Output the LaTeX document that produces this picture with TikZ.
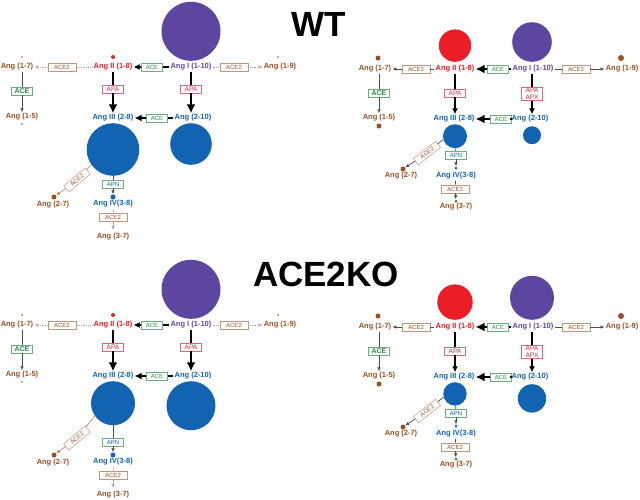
\documentclass[tikz,border=0pt]{standalone}
\usepackage{fontspec}
\setmainfont{Liberation Sans}
\usetikzlibrary{arrows.meta}

\definecolor{angbrown}{RGB}{155,80,35}
\definecolor{angred}{RGB}{235,30,40}
\definecolor{angpurple}{RGB}{92,70,160}
\definecolor{angblue}{RGB}{18,100,178}
\definecolor{enzgreen}{RGB}{40,140,65}
\definecolor{enzred}{RGB}{205,40,60}

\tikzset{
  title/.style={font=\bfseries\fontsize{35}{35}\selectfont, inner sep=0pt},
  pep/.style={font=\bfseries\fontsize{7.5}{8}\selectfont, inner sep=1pt},
  enz/.style={draw, fill=white, line width=0.5pt, inner sep=1pt, minimum width=21pt,
    minimum height=8pt, font=\fontsize{6}{6}\selectfont},
  ace2/.style={enz, draw=angbrown!60, text=angbrown, minimum width=28pt},
  ace/.style={enz, draw=enzgreen!70, text=enzgreen},
  acev/.style={ace, font=\bfseries\fontsize{7}{7}\selectfont},
  apa/.style={enz, draw=enzred!70, text=enzred, font=\fontsize{6.5}{7}\selectfont},
  apn/.style={enz, draw=enzgreen!70, text=angblue},
  pool/.style={circle, inner sep=0pt},
  dot/.style={circle, fill, inner sep=0pt},
  bigflow/.style={line width=2.5pt},
  bigflowto/.style={bigflow, -{Latex[length=9pt,width=9pt]}},
  flow/.style={line width=1.4pt},
  flowto/.style={flow, -{Latex[length=6pt,width=6pt]}},
  side/.style={line width=0.7pt, black!70},
  sideto/.style={side, -{Latex[length=4pt,width=3.5pt]}},
  weak/.style={densely dotted, line width=0.8pt, angbrown!50},
  weakto/.style={weak, -{Latex[open,length=4pt,width=4pt]}}
}

\begin{document}
\begin{tikzpicture}[x=1pt, y=-1pt]
  \useasboundingbox (0,0) rectangle (640,499);

  % Titles
  \node[title] (wt) at (319,24) {WT};
  \node[title] (ko) at (326,274) {ACE2KO};

  % Left column
  \foreach \ys/\rc/\rd in {0/26.3/20.8, 258/22/24.5} {
  \begin{scope}[shift={(0,\ys)}]
    % Pools
    \node[pool, fill=angpurple, minimum size=59pt, anchor=south] (p1) at (191,61) {};
    \node[pool, fill=angblue, minimum size={2*\rc*1pt}, anchor=north] (p3) at (113,123) {};
    \node[pool, fill=angblue, minimum size={2*\rd*1pt}, anchor=north] (p210) at (191,123) {};

    % Peptides
    \node[pep, angbrown] (a17) at (17,67) {Ang (1-7)};
    \node[pep, angred] (a2) at (113,67) {Ang II (1-8)};
    \node[pep, angpurple] (a1) at (191,67) {Ang I (1-10)};
    \node[pep, angbrown] (a19) at (280,67) {Ang (1-9)};
    \node[pep, angbrown] (a15) at (22,117) {Ang (1-5)};
    \node[pep, angblue] (a3) at (113,118) {Ang III (2-8)};
    \node[pep, angblue] (a210) at (193,118) {Ang (2-10)};
    \node[pep, angbrown] (a27) at (53,205) {Ang (2-7)};
    \node[pep, angblue] (a4) at (113,204) {Ang IV(3-8)};
    \node[pep, angbrown] (a37) at (113,237) {Ang (3-7)};

    % Enzymes
    \node[ace2] (e1) at (62,67) {ACE2};
    \node[ace] (e2) at (152,67) {ACE};
    \node[ace2] (e3) at (234,67) {ACE2};
    \node[acev] (e4) at (22,91) {ACE};
    \node[apa] (e5) at (113,89) {APA};
    \node[apa] (e6) at (191,89) {APA};
    \node[ace] (e7) at (157,118) {ACE};
    \node[ace2, rotate=40] (e8) at (77,180) {ACE2};
    \node[apn] (e9) at (113,184) {APN};
    \node[ace2] (e10) at (113,217) {ACE2};

    % Dots
    \node[dot, angbrown, minimum size=1.6pt] (d17) at (22,57) {};
    \node[dot, angred, minimum size=4pt] (d2) at (113,57) {};
    \node[dot, angbrown, minimum size=1.6pt] (d19) at (278,57) {};
    \node[dot, angbrown, minimum size=1.6pt] (d15) at (22,124) {};
    \node[dot, angbrown, minimum size=5pt] (d27) at (54,197) {};
    \node[dot, angblue, minimum size=5pt] (d4) at (113,197) {};
    \coordinate (d37) at (113,230);

    % Reactions
    \draw[weak] (a2) -- (e1);
    \draw[weakto] (e1) -- (a17);
    \draw[weak, black!35] (a1) -- (e3);
    \draw[weakto, black!35] (e3) -- (a19);
    \draw[bigflow, line width=2pt] (a1) -- (e2);
    \draw[flowto, line width=1.2pt] (e2) -- (a2);
    \draw[bigflow] (a2) -- (e5);
    \draw[bigflowto] (e5) -- (a3);
    \draw[bigflow] (a1) -- (e6);
    \draw[bigflowto] (e6) -- (a210.north -| e6);
    \draw[bigflow, line width=2pt] (a210) -- (e7);
    \draw[bigflow, line width=2pt, -{Latex[length=7pt,width=7pt]}] (e7) -- (a3);
    \draw[side] (e4 |- a17.south) -- (e4);
    \draw[sideto] (e4) -- (a15);
    \draw[side, angbrown!70] (p3.215) -- (e8);
    \draw[sideto, angbrown!70] (e8) -- (d27);
    \draw[side] (p3) -- (e9);
    \draw[sideto] (e9) -- (d4);
    \draw[side, black!25] (a4) -- (e10);
    \draw[side, black!35, -{Latex[open,length=4pt,width=3.5pt]}] (e10) -- (d37);
  \end{scope}
  }

  % Right column
  \foreach \ys/\rr/\rp/\rc/\rd in {0/16.2/19.8/12/9, 258/17.7/22/11.7/14.2} {
  \begin{scope}[shift={(0,\ys)}]
    % Pools
    \node[pool, fill=angred, minimum size={2*\rr*1pt}, anchor=south] (p2) at (455,62) {};
    \node[pool, fill=angpurple, minimum size={2*\rp*1pt}, anchor=south] (p1) at (532,62) {};
    \node[pool, fill=angblue, minimum size={2*\rc*1pt}, anchor=north] (p3) at (455,124) {};
    \node[pool, fill=angblue, minimum size={2*\rd*1pt}, anchor=north] (p210) at (532,126) {};

    % Peptides
    \node[pep, angbrown] (a17) at (375,69) {Ang (1-7)};
    \node[pep, angred] (a2) at (455,69) {Ang II (1-8)};
    \node[pep, angpurple] (a1) at (533,69) {Ang I (1-10)};
    \node[pep, angbrown] (a19) at (622,69) {Ang (1-9)};
    \node[pep, angbrown] (a15) at (379,118) {Ang (1-5)};
    \node[pep, angblue] (a3) at (454,119) {Ang III (2-8)};
    \node[pep, angblue] (a210) at (530,119) {Ang (2-10)};
    \node[pep, angbrown] (a27) at (401,176) {Ang (2-7)};
    \node[pep, angblue] (a4) at (456,176) {Ang IV(3-8)};
    \node[pep, angbrown] (a37) at (456,207) {Ang (3-7)};

    % Enzymes
    \node[ace2] (e1) at (416,69) {ACE2};
    \node[ace] (e2) at (498,69) {ACE};
    \node[ace2] (e3) at (576,69) {ACE2};
    \node[acev] (e4) at (379,93) {ACE};
    \node[apa] (e5) at (455,93) {APA};
    \node[apa, align=center, minimum height=13pt] (e6) at (532,94) {APA\\APX};
    \node[ace] (e7) at (501,119) {ACE};
    \node[ace2, rotate=38] (e8) at (427,153) {ACE2};
    \node[apn] (e9) at (456,155) {APN};
    \node[ace2] (e10) at (455,189) {ACE2};

    % Dots
    \node[dot, angbrown, minimum size=5pt] (d17) at (378,58) {};
    \node[dot, angbrown, minimum size=6pt] (d19) at (621,58) {};
    \node[dot, angbrown, minimum size=5pt] (d15) at (379,126) {};
    \node[dot, angbrown, minimum size=5pt] (d27) at (403,169) {};
    \node[dot, angblue, minimum size=3pt] (d4) at (456,168) {};
    \node[dot, angbrown, minimum size=3pt] (d37) at (456,201) {};

    % Reactions
    \draw[side] (a2) -- (e1);
    \draw[sideto] (e1) -- (a17);
    \draw[side] (a1) -- (e3);
    \draw[sideto] (e3) -- (a19);
    \draw[bigflow] (a1) -- (e2);
    \draw[bigflowto] (e2) -- (a2);
    \draw[flow] (a2) -- (e5);
    \draw[flowto] (e5) -- (a3.north -| e5);
    \draw[flow] (a1.south -| e6) -- (e6);
    \draw[flowto] (e6) -- (a210.north -| e6);
    \draw[bigflow] (a210) -- (e7);
    \draw[bigflowto] (e7) -- (a3);
    \draw[side] (e4 |- a17.south) -- (e4);
    \draw[sideto] (e4) -- (a15);
    \draw[side] (p3.195) -- (e8);
    \draw[sideto] (e8) -- (d27);
    \draw[side] (p3) -- (e9);
    \draw[sideto] (e9) -- (d4);
    \draw[side] (a4) -- (e10);
    \draw[sideto] (e10) -- (d37);
  \end{scope}
  }
\end{tikzpicture}
\end{document}
